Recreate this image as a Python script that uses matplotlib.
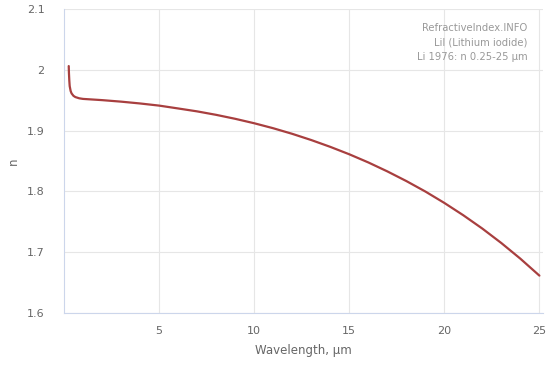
import matplotlib
matplotlib.use("Agg")
from matplotlib import pyplot as plt
from matplotlib.ticker import FuncFormatter

# wavelength (um) and refractive index
wavelength = [0.25, 0.26, 0.28, 0.30, 0.35, 0.40, 0.50, 0.60, 0.80, 1.0, 1.5,
              2.0, 3.0, 4.0, 5.0, 6.0, 7.0, 8.0, 9.0, 10.0, 11.0, 12.0, 13.0,
              14.0, 15.0, 16.0, 17.0, 18.0, 19.0, 20.0, 21.0, 22.0, 23.0,
              24.0, 25.0]
n_index = [2.006, 1.995, 1.982, 1.973, 1.965, 1.961, 1.957, 1.955, 1.953,
           1.952, 1.951, 1.950, 1.9475, 1.9445, 1.941, 1.9363, 1.9315,
           1.9258, 1.9193, 1.912, 1.9038, 1.8946, 1.8844, 1.8732, 1.861,
           1.8476, 1.8329, 1.817, 1.7998, 1.781, 1.7607, 1.7388, 1.715,
           1.6893, 1.6615]

x_ticks = [5, 10, 15, 20, 25]
y_ticks = [1.6, 1.7, 1.8, 1.9, 2.0, 2.1]
info_lines = ["RefractiveIndex.INFO", "LiI (Lithium iodide)", "Li 1976: n 0.25-25 µm"]

grid_col = "#e6e6e6"
axis_col = "#ccd6eb"
text_col = "#666666"

fig = plt.figure(figsize=(5.54, 3.70), dpi=100)
ax = fig.add_axes([0.1155, 0.154, 0.865, 0.822])

ax.plot(wavelength, n_index, color="#a83f3f", lw=1.6, solid_capstyle="round")

ax.set_xlim(0, 25.2)
ax.set_ylim(1.6, 2.1)
ax.set_xticks(x_ticks)
ax.set_yticks(y_ticks)
ax.yaxis.set_major_formatter(FuncFormatter(lambda v, p: "%g" % round(v, 2)))

ax.grid(True, color=grid_col, lw=0.8)
ax.set_axisbelow(True)
for s in ["top", "right"]:
    ax.spines[s].set_visible(False)
ax.spines["left"].set_color(axis_col)
ax.spines["bottom"].set_color(axis_col)
ax.tick_params(length=0, labelsize=8, colors=text_col, pad=9)
ax.tick_params(axis="y", pad=14)

ax.set_xlabel("Wavelength, µm", fontsize=8.5, color=text_col, labelpad=6)
ax.set_ylabel("n", fontsize=8.5, color=text_col)
ax.yaxis.set_label_coords(-0.092, 0.5)

ax.text(0.967, 0.955, "\n".join(info_lines), transform=ax.transAxes,
        ha="right", va="top", fontsize=7.2, color="#999999", linespacing=1.6)

fig.savefig("out.png", dpi=100)
